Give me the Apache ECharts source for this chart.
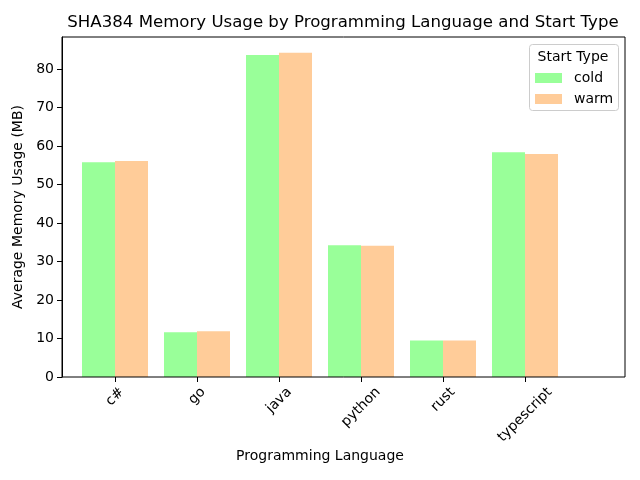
<!DOCTYPE html>
<html>
<head>
<meta charset="utf-8">
<script src="https://cdn.jsdelivr.net/npm/echarts@6/dist/echarts.min.js"></script>
<style>
  html, body { margin: 0; padding: 0; background: #fff; }
  #chart { width: 640px; height: 480px; }
</style>
</head>
<body>
<div id="chart"></div>
<script>
// 数据
var languages = ['c#', 'go', 'java', 'python', 'rust', 'typescript'];
var coldValues = [55.8, 11.6, 83.6, 34.2, 9.5, 58.4];
var warmValues = [56.1, 11.9, 84.2, 34.1, 9.5, 57.9];
var startTypes = ['cold', 'warm'];

var font = 'DejaVu Sans';
var myChart = echarts.init(document.getElementById('chart'));

var option = {
    animation: false,
    textStyle: { fontFamily: font },
    grid: { left: 74, right: 74, top: 37, bottom: 103, containLabel: false },
    legend: {
        data: startTypes,
        orient: 'vertical',
        left: 535,
        top: 71,
        itemWidth: 27,
        itemHeight: 10,
        itemGap: 7,
        icon: 'rect',
        textStyle: { fontFamily: font, fontSize: 14, color: '#000', padding: [0, 0, 0, 7] },
        padding: 0
    },
    graphic: [
        {
            type: 'text',
            x: 343, y: 23,
            style: {
                text: 'SHA384 Memory Usage by Programming Language and Start Type',
                font: '16.6px "DejaVu Sans"', fill: '#000', align: 'center', verticalAlign: 'middle'
            },
            z: 11
        },
        {
            type: 'rect',
            shape: { x: 62, y: 37, width: 563, height: 340 },
            style: { fill: 'none', stroke: '#000', lineWidth: 1 },
            z: 10
        },
        {
            type: 'rect',
            shape: { x: 529.5, y: 44.5, width: 89, height: 66, r: 3 },
            style: { fill: 'rgba(255,255,255,0.8)', stroke: '#ccc', lineWidth: 1 },
            z: 1
        },
        {
            type: 'text',
            x: 573, y: 57,
            style: { text: 'Start Type', font: '14px "DejaVu Sans"', fill: '#000', align: 'center', verticalAlign: 'middle' },
            z: 11
        }
    ],
    xAxis: {
        type: 'category',
        data: languages,
        name: 'Programming Language',
        nameLocation: 'middle',
        nameGap: 72,
        nameTextStyle: { fontFamily: font, fontSize: 14, color: '#000' },
        axisLine: { show: false },
        axisTick: { show: true, alignWithLabel: true, length: 5, lineStyle: { color: '#000' } },
        axisLabel: { show: false }
    },
    yAxis: {
        type: 'value',
        min: 0,
        max: 88.3,
        interval: 10,
        offset: 12,
        name: 'Average Memory Usage (MB)',
        nameLocation: 'middle',
        nameGap: 31,
        nameTextStyle: { fontFamily: font, fontSize: 14, color: '#000' },
        splitLine: { show: false },
        axisLine: { show: true, lineStyle: { color: '#000' } },
        axisTick: { show: true, length: 5, lineStyle: { color: '#000' } },
        axisLabel: { showMaxLabel: false, margin: 8, fontFamily: font, fontSize: 14, color: '#000' }
    },
    series: [
        {
            name: 'cold',
            type: 'bar',
            data: coldValues,
            barWidth: 33,
            barGap: '0%',
            itemStyle: { color: '#99ff99' }
        },
        {
            name: 'warm',
            type: 'bar',
            data: warmValues,
            barWidth: 33,
            barGap: '0%',
            itemStyle: { color: '#ffcc99' }
        }
    ]
};

myChart.setOption(option);

// x 轴标签：旋转45°，以标签中心对齐刻度
var ctx = document.createElement('canvas').getContext('2d');
ctx.font = '14px "DejaVu Sans"';
var labels = languages.map(function (name) {
    var x = myChart.convertToPixel({ xAxisIndex: 0 }, name);
    var w = ctx.measureText(name).width;
    var h = 14;
    return {
        type: 'text',
        x: x,
        y: 385 + (w + h) * 0.3536,
        rotation: Math.PI / 4,
        style: { text: name, font: '14px "DejaVu Sans"', fill: '#000', align: 'center', verticalAlign: 'middle' },
        z: 11
    };
});
myChart.setOption({ graphic: option.graphic.concat(labels) });
</script>
</body>
</html>
